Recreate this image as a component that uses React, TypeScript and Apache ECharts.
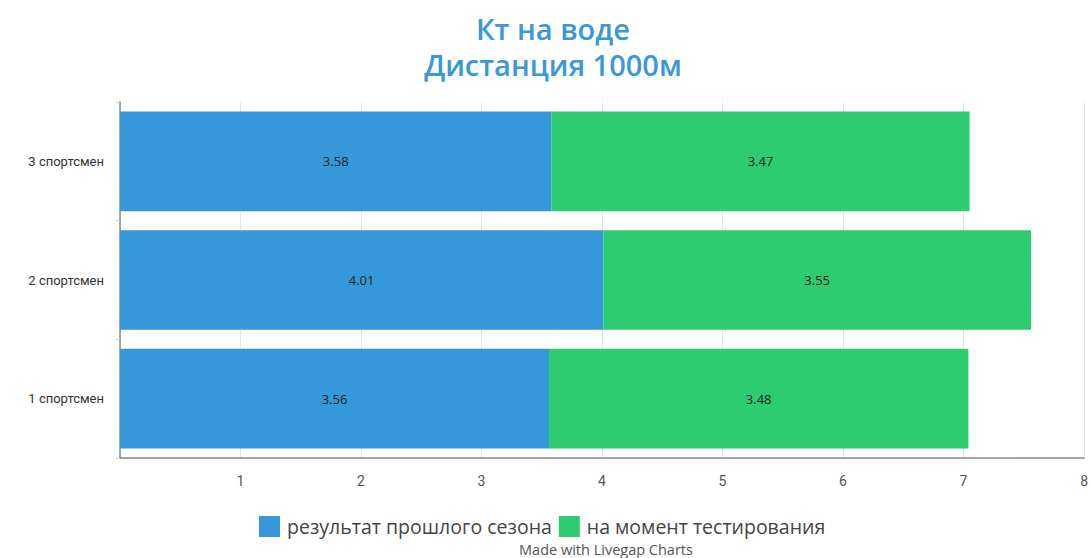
import React, { useEffect, useRef } from "react";
import * as echarts from "echarts";

const categories = ["1 спортсмен", "2 спортсмен", "3 спортсмен"];
const lastSeason = [3.56, 4.01, 3.58];
const atTesting = [3.48, 3.55, 3.47];
const seriesNames = ["результат прошлого сезона", "на момент тестирования"];
const titleLines = ["Кт на воде", "Дистанция 1000м"];
const creditText = "Made with Livegap Charts";

const FONT = "'Open Sans', 'Noto Sans', sans-serif";
const AXIS_FONT = "Roboto, 'Open Sans', sans-serif";

export default function App() {
  const ref = useRef<HTMLDivElement>(null);

  useEffect(() => {
    if (!ref.current) return;
    const chart = echarts.init(ref.current, undefined, { renderer: "svg" });
    const labelStyle = {
      show: true,
      position: "inside" as const,
      color: "#222",
      fontSize: 13,
      fontFamily: FONT,
    };
    const titleStyle = {
      color: "#3a98d8",
      fontSize: 29,
      fontWeight: 600,
      lineHeight: 31,
      fontFamily: FONT,
    };
    chart.setOption({
      animation: false,
      textStyle: { fontFamily: FONT },
      title: titleLines.map((t, i) => ({
        text: t,
        left: 553,
        textAlign: "center",
        top: 13 + i * 36,
        padding: 0,
        textStyle: titleStyle,
      })),
      grid: { left: 120, right: 6, top: 102, bottom: 100, containLabel: false },
      xAxis: {
        type: "value",
        min: 0,
        max: 8,
        interval: 1,
        axisLine: { show: true, lineStyle: { color: "#888", width: 1.5 } },
        axisTick: { show: false },
        splitLine: { show: true, lineStyle: { color: "#e6e6e6" } },
        axisLabel: {
          showMinLabel: false,
          margin: 16,
          color: "#555",
          fontSize: 14,
          fontFamily: AXIS_FONT,
        },
      },
      yAxis: {
        type: "category",
        data: categories,
        axisLine: { show: true, lineStyle: { color: "#888", width: 1.5 } },
        axisTick: { show: true, length: 4, lineStyle: { color: "#ccc" } },
        axisLabel: {
          margin: 16,
          color: "#333",
          fontSize: 13,
          fontFamily: AXIS_FONT,
        },
      },
      legend: {
        top: 511,
        left: 254,
        itemWidth: 21,
        itemHeight: 21,
        itemGap: 7,
        icon: "rect",
        textStyle: { fontSize: 19.5, color: "#444", padding: [0, 0, 0, 2] },
        data: seriesNames,
      },
      graphic: [
        {
          type: "text",
          x: 606,
          y: 549,
          style: {
            text: creditText,
            fill: "#555",
            fontSize: 14.5,
            fontFamily: FONT,
            align: "center",
            verticalAlign: "middle",
          },
        },
      ],
      series: [
        {
          name: seriesNames[0],
          type: "bar",
          stack: "total",
          data: lastSeason,
          barCategoryGap: "16%",
          itemStyle: { color: "#3498db" },
          label: labelStyle,
        },
        {
          name: seriesNames[1],
          type: "bar",
          stack: "total",
          data: atTesting,
          barCategoryGap: "16%",
          itemStyle: { color: "#2ecc71" },
          label: labelStyle,
        },
      ],
    });
    return () => chart.dispose();
  }, []);

  return (
    <div
      ref={ref}
      style={{ position: "absolute", left: 0, top: 0, width: 1091, height: 558 }}
    />
  );
}
